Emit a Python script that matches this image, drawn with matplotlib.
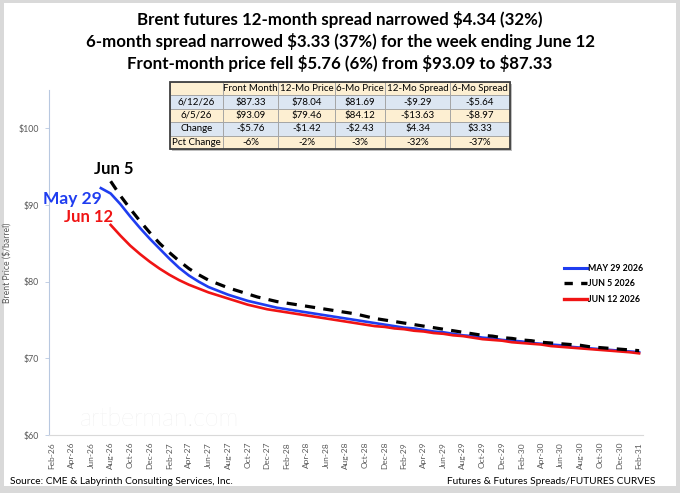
import matplotlib.pyplot as plt
from matplotlib.patches import Rectangle
from matplotlib.lines import Line2D
import numpy as np

plt.rcParams['font.family'] = ['Lato', 'DejaVu Sans']

# month index 0 = Feb-26, 60 = Feb-31
tick_labels = [m + '-' + y for y in ['26', '27', '28', '29', '30']
               for m in ['Feb', 'Apr', 'Jun', 'Aug', 'Oct', 'Dec']] + ['Feb-31']

may29_start = 5   # Jul-26
may29 = [92.2, 91.5, 90.1, 88.5, 87.0, 85.6, 84.3, 83.0, 81.8, 80.8,
         80.0, 79.3, 78.8, 78.3, 77.9, 77.5, 77.2, 76.9, 76.6, 76.4,
         76.2, 76.0, 75.8, 75.6, 75.4, 75.2, 75.0, 74.8, 74.6, 74.4,
         74.2, 74.0, 73.9, 73.7, 73.5, 73.4, 73.2, 73.0, 72.9, 72.7,
         72.6, 72.4, 72.3, 72.2, 72.0, 71.9, 71.8, 71.7, 71.5, 71.4,
         71.3, 71.2, 71.1, 71.0, 70.9, 70.8]

jun5_start = 6    # Aug-26
jun5 = [93.1, 91.2, 89.5, 87.9, 86.4, 85.0, 83.8, 82.7, 81.7, 80.9,
        80.2, 79.7, 79.2, 78.8, 78.4, 78.0, 77.7, 77.4, 77.2, 77.0,
        76.8, 76.6, 76.4, 76.2, 76.0, 75.8, 75.5, 75.2, 75.0, 74.8,
        74.6, 74.4, 74.2, 74.0, 73.8, 73.6, 73.4, 73.2, 73.0, 72.9,
        72.7, 72.6, 72.4, 72.3, 72.1, 72.0, 71.9, 71.8, 71.7, 71.5,
        71.4, 71.3, 71.2, 71.1, 71.0]

jun12_start = 6   # Aug-26
jun12 = [87.4, 86.0, 84.7, 83.6, 82.6, 81.7, 80.9, 80.2, 79.6, 79.1,
         78.6, 78.2, 77.8, 77.4, 77.0, 76.7, 76.4, 76.2, 76.0, 75.8,
         75.6, 75.4, 75.2, 75.0, 74.8, 74.6, 74.4, 74.2, 74.1, 73.9,
         73.8, 73.6, 73.5, 73.3, 73.2, 73.0, 72.9, 72.7, 72.5, 72.4,
         72.3, 72.1, 72.0, 71.9, 71.8, 71.6, 71.5, 71.4, 71.3, 71.2,
         71.1, 71.0, 70.9, 70.8, 70.65]

table_cols = ['', 'Front Month', '12-Mo Price', '6-Mo Price', '12-Mo Spread', '6-Mo Spread']
table_rows = [
    ['6/12/26', '$87.33', '$78.04', '$81.69', '-$9.29', '-$5.64'],
    ['6/5/26', '$93.09', '$79.46', '$84.12', '-$13.63', '-$8.97'],
    ['Change', '-$5.76', '-$1.42', '-$2.43', '$4.34', '$3.33'],
    ['Pct Change', '-6%', '-2%', '-3%', '-32%', '-37%'],
]

BLUE = '#1f3df0'
RED = '#f01414'

fig = plt.figure(figsize=(6.8, 4.93), dpi=100, facecolor='#d9d9d9')
fig.patches.append(Rectangle((4 / 680, 7 / 493), 672 / 680, 483 / 493,
                             transform=fig.transFigure, facecolor='white',
                             edgecolor='none', zorder=-10))

ax = fig.add_axes([49 / 680, 58 / 493, 594 / 680, 345 / 493])
ax.set_facecolor('white')

ax.plot(np.arange(may29_start, may29_start + len(may29)), may29,
        color=BLUE, lw=1.9, zorder=3)
ax.plot(np.arange(jun5_start, jun5_start + len(jun5)), jun5,
        color='black', lw=2.3, dashes=(3.2, 2.6), zorder=4)
ax.plot(np.arange(jun12_start, jun12_start + len(jun12)), jun12,
        color=RED, lw=1.9, zorder=3)

ax.set_xlim(-0.3, 60.4)
ax.set_ylim(60, 105)
ax.set_yticks([60, 70, 80, 90, 100])
ax.set_yticklabels(['$60', '$70', '$80', '$90', '$100'])
ax.set_xticks(np.arange(0, 61, 2))
ax.set_xticklabels(tick_labels, rotation=90)
ax.tick_params(axis='y', labelsize=6.3, colors='#595959', length=3, width=0.6,
               pad=4, color='#b8c8e0')
ax.tick_params(axis='x', labelsize=6, colors='#595959', length=0, pad=5)
ax.set_ylabel('Brent Price ($/barrel)', fontsize=6.2, color='#595959')
ax.yaxis.set_label_coords(-37 / 594, 0.5)

for s in ['top', 'right']:
    ax.spines[s].set_visible(False)
ax.spines['left'].set_color('#b8c8e0')
ax.spines['left'].set_linewidth(0.8)
ax.spines['bottom'].set_color('#d9d9d9')
ax.spines['bottom'].set_linewidth(0.8)

# curve labels
fig.text(114 / 680, 1 - 169 / 493, 'Jun 5', fontsize=12, fontweight='bold',
         color='black', ha='center', va='center')
fig.text(102 / 680, 1 - 199 / 493, 'May 29', fontsize=12.5, fontweight='bold',
         color=BLUE, ha='right', va='center')
fig.text(113 / 680, 1 - 217 / 493, 'Jun 12', fontsize=12, fontweight='bold',
         color=RED, ha='right', va='center')

# legend
handles = [Line2D([], [], color=BLUE, lw=2.2),
           Line2D([], [], color='black', lw=2.4, dashes=(2.5, 2.5)),
           Line2D([], [], color=RED, lw=2.4)]
fig.legend(handles, ['MAY 29 2026', 'JUN 5 2026', 'JUN 12 2026'],
           loc='upper left', bbox_to_anchor=(556 / 680, 1 - 256 / 493),
           frameon=False, handlelength=2.6, handletextpad=0.1,
           labelspacing=0.75, prop={'size': 6.3, 'weight': 'bold'})

# watermark
fig.text(80 / 680, 1 - 419 / 493, 'artberman.com', fontsize=18,
         color='#e6e6e6', ha='left', va='center', fontweight='light')

# titles
titles = ['Brent futures 12-month spread narrowed $4.34 (32%)',
          '6-month spread narrowed $3.33 (37%) for the week ending June 12',
          'Front-month price fell $5.76 (6%) from $93.09 to $87.33']
for k, t in enumerate(titles):
    fig.text(0.5, 1 - (19 + 22 * k) / 493, t, fontsize=12.2, fontweight='bold',
             ha='center', va='center')

# footer
fig.text(10 / 680, 1 - 481 / 493, 'Source: CME & Labyrinth Consulting Services, Inc.',
         fontsize=7.3, ha='left', va='center')
fig.text(655 / 680, 1 - 481 / 493, 'Futures & Futures Spreads/FUTURES CURVES',
         fontsize=7.3, ha='right', va='center')

# summary table
tax = fig.add_axes([170 / 680, 1 - 149 / 493, 340 / 680, 67 / 493])
tax.axis('off')
cream = '#fdefd2'
blue = '#dce6f2'
row_cols = [blue, cream, blue, cream]
cell_colours = [[cream] * 6] + [[c] * 6 for c in row_cols]
col_w = np.array([53, 55, 57, 50, 65, 60], dtype=float)
tbl = tax.table(cellText=[table_cols] + table_rows, cellColours=cell_colours,
                colWidths=list(col_w / col_w.sum()), cellLoc='center',
                bbox=[0, 0, 1, 1])
tbl.auto_set_font_size(False)
for (r, c), cell in tbl.get_celld().items():
    cell.set_edgecolor('#a0a0a0')
    cell.set_linewidth(0.6)
    cell.get_text().set_fontsize(7)
tax.add_patch(Rectangle((0.006, -0.03), 1, 1, transform=tax.transAxes,
                        facecolor='#bfbfbf', edgecolor='none', zorder=-1,
                        clip_on=False))
tax.add_patch(Rectangle((0, 0), 1, 1, transform=tax.transAxes, fill=False,
                        edgecolor='#404040', lw=1.3, zorder=5, clip_on=False))

fig.savefig('out.png', dpi=100, facecolor=fig.get_facecolor())
